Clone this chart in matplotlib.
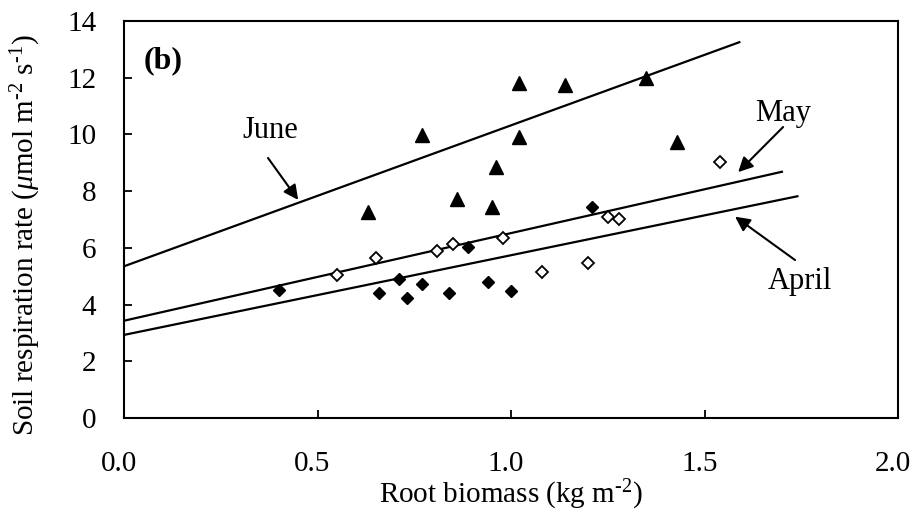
import matplotlib
matplotlib.use("Agg")
import matplotlib.pyplot as plt
import matplotlib.transforms as mtransforms
import numpy as np

plt.rcParams['font.family'] = ['Liberation Serif', 'DejaVu Serif']
plt.rcParams['mathtext.fontset'] = 'custom'
plt.rcParams['mathtext.rm'] = 'Liberation Serif'
plt.rcParams['mathtext.it'] = 'Liberation Serif:italic'

# June (filled triangles)
june_x = [0.63, 0.77, 0.86, 0.95, 0.96, 1.02, 1.02, 1.14, 1.35, 1.43]
june_y = [7.27, 9.98, 7.71, 7.43, 8.86, 11.80, 9.92, 11.74, 11.98, 9.74]

# May (open diamonds)
may_x = [0.55, 0.65, 0.81, 0.85, 0.98, 1.08, 1.20, 1.25, 1.28, 1.54]
may_y = [5.04, 5.63, 5.90, 6.12, 6.36, 5.14, 5.48, 7.10, 7.01, 9.04]

# April (filled diamonds)
april_x = [0.40, 0.66, 0.71, 0.73, 0.77, 0.84, 0.89, 0.94, 1.00, 1.21]
april_y = [4.51, 4.40, 4.90, 4.22, 4.72, 4.40, 6.02, 4.81, 4.49, 7.43]

# regression lines: intercept, slope, x end
june_fit = (5.35, 4.97, 1.59)
may_fit = (3.43, 3.09, 1.70)
april_fit = (2.93, 2.81, 1.74)

fig = plt.figure(figsize=(9.14, 5.12), dpi=100)
ax = fig.add_axes([0.1357, 0.1836, 0.8468, 0.7754])

for b0, b1, xe in [june_fit, may_fit, april_fit]:
    xx = np.array([0.0, xe])
    ax.plot(xx, b0 + b1 * xx, color='black', lw=1.6, zorder=2)

ax.plot(june_x, june_y, '^', color='black', ms=10, zorder=3)
ax.plot(april_x, april_y, 'D', color='black', ms=6.5, zorder=3)
ax.plot(may_x, may_y, 'D', mfc='white', mec='black', mew=1.3, ms=6.5, zorder=3)

arrow = dict(arrowstyle='-|>', color='black', lw=1.5, mutation_scale=22,
             shrinkA=0, shrinkB=0)
ax.annotate('', xy=(0.45, 7.69), xytext=(0.372, 9.17), arrowprops=arrow)
ax.annotate('', xy=(1.587, 8.67), xytext=(1.703, 10.26), arrowprops=arrow)
ax.annotate('', xy=(1.579, 7.10), xytext=(1.734, 5.57), arrowprops=arrow)
ax.text(0.377, 10.15, 'June', fontsize=22, ha='center', va='center')
ax.text(1.703, 10.75, 'May', fontsize=22, ha='center', va='center')
ax.text(1.747, 4.80, 'April', fontsize=22, ha='center', va='center')
ax.text(0.05, 0.90, '(b)', fontsize=23, fontweight='bold', ha='center',
        va='center', transform=ax.transAxes)

ax.set_xlim(0, 2.0)
ax.set_ylim(0, 14)
ax.set_xticks([0.0, 0.5, 1.0, 1.5, 2.0])
ax.set_xticklabels(['0.0', '0.5', '1.0', '1.5', '2.0'])
ax.set_yticks(range(0, 15, 2))
ax.tick_params(direction='in', length=6, width=1.3, labelsize=21)
ax.tick_params(axis='x', pad=24)
ax.tick_params(axis='y', pad=20)
for s in ax.spines.values():
    s.set_linewidth(1.5)

# tick labels sit a little left of their ticks in the original
shift = mtransforms.ScaledTranslation(-5 / 100, 0, fig.dpi_scale_trans)
for lab in ax.get_xticklabels():
    lab.set_transform(lab.get_transform() + shift)

ax.set_xlabel(r'Root biomass (kg m$^{\text{-}2}$)', fontsize=21)
ax.set_ylabel(r'Soil respiration rate ($\mathit{\mu}$mol m$^{\text{-}2}$ s$^{\text{-}1}$)',
              fontsize=21)
ax.yaxis.set_label_coords(-0.105, 0.46)
ax.xaxis.set_label_coords(0.5, -0.152)

fig.savefig('out.png', dpi=100)
